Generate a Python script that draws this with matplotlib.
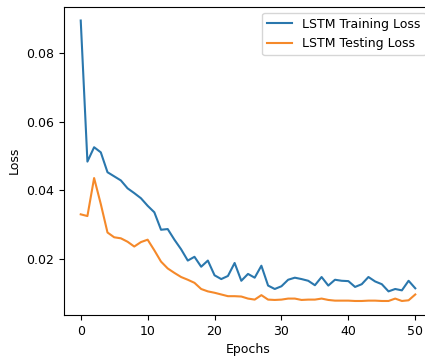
import matplotlib
matplotlib.use("Agg")
import matplotlib.pyplot as plt

epochs = list(range(51))

train_loss = [
    0.0896, 0.0484, 0.0526, 0.0511, 0.0453, 0.0441, 0.0429, 0.0406, 0.0392, 0.0377,
    0.0355, 0.0336, 0.0285, 0.0287, 0.0256, 0.0228, 0.0195, 0.0206, 0.0177, 0.0195,
    0.0152, 0.0141, 0.0150, 0.0188, 0.0136, 0.0156, 0.0145, 0.0180, 0.0122, 0.0112,
    0.0120, 0.0139, 0.0145, 0.0141, 0.0136, 0.0123, 0.0147, 0.0122, 0.0139, 0.0136,
    0.0135, 0.0118, 0.0126, 0.0147, 0.0134, 0.0126, 0.0105, 0.0112, 0.0108, 0.0136,
    0.0114,
]

test_loss = [
    0.0330, 0.0325, 0.0436, 0.0360, 0.0277, 0.0263, 0.0260, 0.0250, 0.0236, 0.0249,
    0.0256, 0.0225, 0.0192, 0.0172, 0.0159, 0.0147, 0.0139, 0.0130, 0.0112, 0.0105,
    0.0101, 0.0096, 0.0091, 0.0091, 0.0090, 0.0084, 0.0081, 0.0094, 0.0081, 0.0080,
    0.0081, 0.0084, 0.0084, 0.0080, 0.0081, 0.0081, 0.0084, 0.0080, 0.0078, 0.0078,
    0.0078, 0.0077, 0.0077, 0.0078, 0.0078, 0.0077, 0.0077, 0.0084, 0.0077, 0.0079,
    0.0096,
]

W, H = 425, 358
fig = plt.figure(figsize=(W / 100, H / 100), dpi=100)
# axes runs slightly past the right edge, as in the cropped reference
ax = fig.add_axes([64 / W, (H - 315) / H, (432 - 64) / W, (315 - 6.5) / H])

ax.plot(epochs, train_loss, color="#2a77ad", linewidth=1.5, label="LSTM Training Loss")
ax.plot(epochs, test_loss, color="#f5892a", linewidth=1.5, label="LSTM Testing Loss")

ax.set_xticks([0, 10, 20, 30, 40, 50])
ax.set_yticks([0.02, 0.04, 0.06, 0.08])
ax.tick_params(labelsize=9)
ax.set_xlabel("Epochs", fontsize=9)
ax.set_ylabel("Loss", fontsize=9)
ax.legend(fontsize=9, loc="upper right")

fig.savefig("out.png", dpi=100)
